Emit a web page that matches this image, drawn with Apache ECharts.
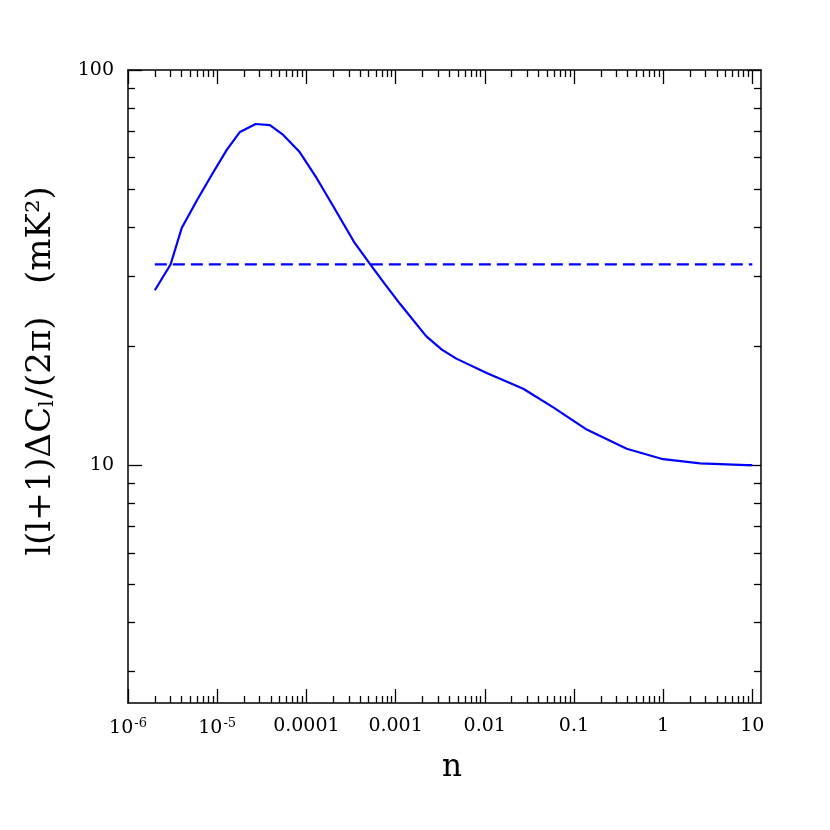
<!DOCTYPE html>
<html>
<head>
<meta charset="utf-8">
<script src="https://cdn.jsdelivr.net/npm/echarts@6/dist/echarts.min.js"></script>
<style>
html,body{margin:0;padding:0;background:#fff;}
#chart{width:830px;height:830px;}
</style>
</head>
<body>
<div id="chart"></div>
<script>
// ---- data ----
const nValues = [2e-6, 3e-6, 4e-6, 6e-6, 8.7e-6, 1.28e-5, 1.8e-5, 2.7e-5, 3.9e-5, 5.5e-5, 8.3e-5, 1.3e-4, 2e-4, 3.4e-4, 5.2e-4, 7.6e-4, 1.12e-3, 2.2e-3, 3.3e-3, 4.8e-3, 0.0105, 0.027, 0.0586, 0.139, 0.39, 1, 2.6, 8.6, 10];
const clValues = [27.7, 32.2, 39.8, 47, 54.3, 62.8, 69.7, 73, 72.5, 68.5, 62.2, 53.3, 45.2, 36.8, 32.2, 28.7, 25.6, 21.2, 19.6, 18.6, 17.1, 15.6, 14.0, 12.3, 11.0, 10.35, 10.1, 10.0, 10.0];
const dashedN = [2e-6, 10];
const dashedLevel = [32.2, 32.2];
const xMajorTicks = [1e-6, 1e-5, 1e-4, 1e-3, 1e-2, 1e-1, 1, 10];
const xTickLabels = ['10{sup|-6}', '10{sup|-5}', '0.0001', '0.001', '0.01', '0.1', '1', '10'];
const yMajorTicks = [10, 100];
const yTickLabels = ['10', '100'];
const xMin = 1e-6, xMax = 12.5, yMin = 2.5, yMax = 100;

function minorTicks(lo, hi) {
  const out = [];
  for (let e = Math.floor(Math.log10(lo)); e <= Math.ceil(Math.log10(hi)); e++) {
    for (let k = 2; k <= 9; k++) {
      const v = k * Math.pow(10, e);
      if (v >= lo * 0.999 && v <= hi * 1.001) out.push(v);
    }
  }
  return out;
}
const xMinor = minorTicks(xMin, xMax);
const yMinor = minorTicks(yMin, yMax);

const FONT = 'DejaVu Serif';
const axisLineStyle = { color: '#000', width: 1.5 };

function xLabelFmt(v) {
  const idx = xMajorTicks.findIndex(t => Math.abs(Math.log10(t) - Math.log10(v)) < 1e-6);
  return idx >= 0 ? xTickLabels[idx] : '';
}
function yLabelFmt(v) {
  const idx = yMajorTicks.findIndex(t => Math.abs(Math.log10(t) - Math.log10(v)) < 1e-6);
  return idx >= 0 ? yTickLabels[idx] : '';
}

function mkX(pos, major, showLabel) {
  return {
    type: 'log', logBase: 10, min: xMin, max: xMax, position: pos, gridIndex: 0,
    axisLine: { show: major, onZero: false, lineStyle: axisLineStyle },
    axisTick: { show: true, inside: true, length: major ? 14 : 7, customValues: major ? xMajorTicks : xMinor,
      lineStyle: { color: '#000', width: 1.3 } },
    axisLabel: showLabel ? {
      show: true, customValues: xMajorTicks, formatter: xLabelFmt, margin: 14,
      color: '#000', fontFamily: FONT, fontSize: 19,
      rich: { sup: { fontFamily: FONT, fontSize: 13, color: '#000', verticalAlign: 'top', padding: [0, 0, 9, 1] } }
    } : { show: false },
    splitLine: { show: false }, minorTick: { show: false }, minorSplitLine: { show: false }
  };
}
function mkY(pos, major, showLabel) {
  return {
    type: 'log', logBase: 10, min: yMin, max: yMax, position: pos, gridIndex: 0,
    axisLine: { show: major, onZero: false, lineStyle: axisLineStyle },
    axisTick: { show: true, inside: true, length: major ? 14 : 7, customValues: major ? yMajorTicks : yMinor,
      lineStyle: { color: '#000', width: 1.3 } },
    axisLabel: showLabel ? {
      show: true, customValues: yMajorTicks, formatter: yLabelFmt, margin: 14,
      color: '#000', fontFamily: FONT, fontSize: 19
    } : { show: false },
    splitLine: { show: false }, minorTick: { show: false }, minorSplitLine: { show: false }
  };
}

const chart = echarts.init(document.getElementById('chart'), null, { renderer: 'canvas' });
chart.setOption({
  backgroundColor: '#fff',
  animation: false,
  grid: { left: 128, right: 69, top: 70, bottom: 127, containLabel: false },
  xAxis: [mkX('bottom', true, true), mkX('bottom', false, false), mkX('top', true, false), mkX('top', false, false)],
  yAxis: [mkY('left', true, true), mkY('left', false, false), mkY('right', true, false), mkY('right', false, false)],
  graphic: [
    { type: 'text', x: 452, y: 768, style: { text: 'n', fontFamily: FONT, fontSize: 31, fill: '#000', align: 'center', verticalAlign: 'middle' } },
    { type: 'text', x: 41, y: 371, rotation: Math.PI / 2,
      style: { text: 'l(l+1)ΔC{sub|l}/(2π)   (mK²)', fontFamily: FONT, fontSize: 34, fill: '#000', align: 'center', verticalAlign: 'middle',
        rich: { sub: { fontFamily: FONT, fontSize: 20, fill: '#000', verticalAlign: 'bottom', padding: [12, 2, 0, 0] } } } }
  ],
  series: [
    { type: 'line', xAxisIndex: 0, yAxisIndex: 0, data: nValues.map((n, i) => [n, clValues[i]]),
      showSymbol: false, symbol: 'none', lineStyle: { color: '#0000ff', width: 2.2 }, silent: true },
    { type: 'line', xAxisIndex: 0, yAxisIndex: 0, data: dashedN.map((n, i) => [n, dashedLevel[i]]),
      showSymbol: false, symbol: 'none', lineStyle: { color: '#0000ff', width: 2.2, type: [12, 6] }, silent: true }
  ]
});
</script>
</body>
</html>
